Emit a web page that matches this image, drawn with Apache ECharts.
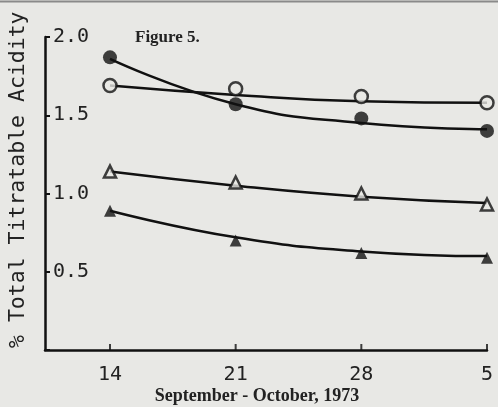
<!DOCTYPE html>
<html>
<head>
<meta charset="utf-8">
<script src="https://cdn.jsdelivr.net/npm/echarts@6/dist/echarts.min.js"></script>
<style>
  html, body { margin: 0; padding: 0; background: #e8e8e5; }
  #chart { width: 498px; height: 407px; }
</style>
</head>
<body>
<div id="chart"></div>
<script>
// day of Sept (Oct 5 = 35)
const days = [14, 21, 28, 35];
const tickLabels = { 14: "14", 21: "21", 28: "28", 35: "5" };

// measured points
const openCircle = [1.69, 1.67, 1.62, 1.58];
const filledCircle = [1.87, 1.57, 1.48, 1.40];
const openTriangle = [1.14, 1.07, 1.00, 0.93];
const filledTriangle = [0.89, 0.70, 0.62, 0.59];

// fitted curves, read at the same days
const openCircleFit = [1.69, 1.63, 1.59, 1.58];
const filledCircleFit = [1.86, 1.57, 1.45, 1.41];
const openTriangleFit = [1.14, 1.05, 0.98, 0.94];
const filledTriangleFit = [0.89, 0.72, 0.63, 0.60];

const pair = (vals) => days.map((d, i) => [d, vals[i]]);

const chart = echarts.init(document.getElementById("chart"));

function fitLine(vals) {
  return {
    type: "line",
    data: pair(vals),
    smooth: 0.5,
    symbol: "none",
    lineStyle: { color: "#111", width: 2.5 },
    z: 2,
  };
}
function points(vals, symbol, filled) {
  return {
    type: "scatter",
    data: pair(vals),
    symbol: symbol,
    symbolSize: symbol === "triangle" ? 12 : (filled ? 14 : 13),
    itemStyle: {
      color: filled ? "#111" : "#e8e8e5",
      borderColor: "#111",
      borderWidth: filled ? 0 : 2.5,
    },
    z: 3,
  };
}

chart.setOption({
  backgroundColor: "#e8e8e5",
  animation: false,
  title: {
    text: "Figure 5.",
    left: 135,
    top: 29,
    padding: 0,
    textStyle: {
      fontFamily: "Liberation Serif",
      fontSize: 17,
      fontWeight: "bold",
      color: "#222",
    },
  },
  grid: { left: 45, right: 11, top: 37, bottom: 57 },
  xAxis: {
    type: "value",
    min: 10.38,
    max: 35,
    axisLine: { lineStyle: { color: "#111", width: 2.5 } },
    axisTick: { show: false },
    splitLine: { show: false },
    axisLabel: {
      color: "#222",
      fontFamily: "DejaVu Sans Mono",
      fontSize: 20,
      margin: 15,
      customValues: days,
      formatter: (v) => tickLabels[v] || "",
    },
  },
  yAxis: {
    type: "value",
    min: 0,
    max: 2.0,
    interval: 0.5,
    axisLine: { show: true, lineStyle: { color: "#111", width: 2.5 } },
    axisTick: { show: true, inside: true, length: 5, lineStyle: { color: "#111", width: 2 } },
    splitLine: { show: false },
    axisLabel: {
      inside: true,
      margin: 8,
      color: "#222",
      fontFamily: "DejaVu Sans Mono",
      fontSize: 20,
      formatter: (v) => (v === 0 ? "" : v.toFixed(1)),
    },
  },
  graphic: [
    {
      type: "line",
      shape: { x1: 0, y1: 1.5, x2: 498, y2: 1.5 },
      style: { stroke: "#8a8a8a", lineWidth: 2 },
    },
    {
      type: "text",
      x: 7,
      y: 348,
      rotation: Math.PI / 2,
      style: {
        text: "% Total Titratable Acidity",
        fontFamily: "DejaVu Sans Mono",
        fontSize: 21.5,
        fill: "#222",
        textVerticalAlign: "top",
      },
    },
    {
      type: "text",
      x: 257,
      y: 396,
      style: {
        text: "September - October, 1973",
        fontFamily: "Liberation Serif",
        fontSize: 18,
        fontWeight: "bold",
        fill: "#222",
        textAlign: "center",
        textVerticalAlign: "middle",
      },
    },
  ],
  series: [
    // small x-axis tick marks at each sampling day
    {
      type: "scatter",
      data: days.map((d) => [d, 0]),
      symbol: "rect",
      symbolSize: [2, 6],
      symbolOffset: [0, -3],
      itemStyle: { color: "#111" },
      clip: false,
      silent: true,
      z: 4,
    },
    fitLine(openCircleFit),
    fitLine(filledCircleFit),
    fitLine(openTriangleFit),
    fitLine(filledTriangleFit),
    points(openCircle, "circle", false),
    points(filledCircle, "circle", true),
    points(openTriangle, "triangle", false),
    points(filledTriangle, "triangle", true),
  ],
});
</script>
</body>
</html>
